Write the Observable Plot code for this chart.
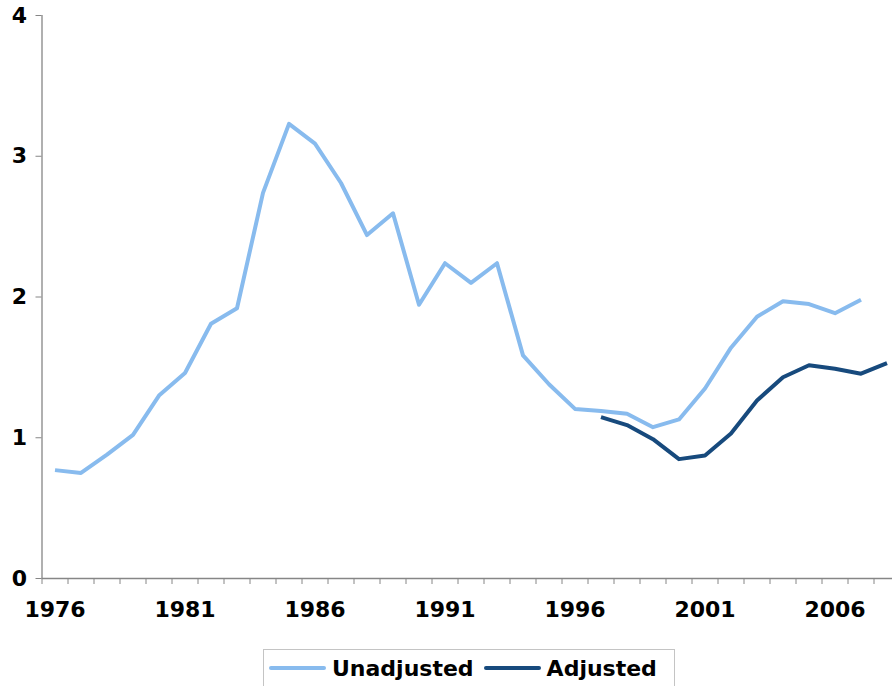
<!DOCTYPE html>
<html>
<head>
<meta charset="utf-8">
<script src="https://cdn.jsdelivr.net/npm/d3@7"></script>
<script src="https://cdn.jsdelivr.net/npm/@observablehq/plot@0.6"></script>
<style>
  html, body { margin: 0; padding: 0; background: #fff; }
  #wrap { position: relative; width: 892px; height: 686px; overflow: hidden; font-family: "DejaVu Sans", Verdana, sans-serif; }
  #legend { position: absolute; left: 263px; top: 649px; width: 412px; height: 40px; border: 1px solid #c4c4c4; box-sizing: border-box; display: flex; align-items: center; padding-left: 5px; font-weight: bold; font-size: 22px; color: #000; padding-bottom: 2px; }
  .sw { display: inline-block; width: 57px; height: 4px; border-radius: 2px; margin-right: 6px; }
  .item { display: flex; align-items: center; margin-right: 10px; }
</style>
</head>
<body>
<div id="wrap">
  <div id="chart"></div>
  <div id="legend"></div>
</div>
<script>
const years = [1976,1977,1978,1979,1980,1981,1982,1983,1984,1985,1986,1987,1988,1989,1990,1991,1992,1993,1994,1995,1996,1997,1998,1999,2000,2001,2002,2003,2004,2005,2006,2007,2008];
const unadjusted = [0.77,0.75,0.88,1.02,1.30,1.46,1.81,1.92,2.74,3.23,3.09,2.81,2.44,2.595,1.945,2.24,2.10,2.24,1.585,1.38,1.205,1.19,1.17,1.075,1.13,1.35,1.64,1.86,1.97,1.95,1.885,1.98,null];
const adjusted = [null,null,null,null,null,null,null,null,null,null,null,null,null,null,null,null,null,null,null,null,null,1.146,1.09,0.99,0.848,0.874,1.03,1.265,1.43,1.515,1.49,1.455,1.53];
const yTicks = [0,1,2,3,4];
const xLabels = [1976,1981,1986,1991,1996,2001,2006];
const seriesNames = ["Unadjusted","Adjusted"];
const seriesColors = ["#88bbee","#174a7d"];

const rows = [];
years.forEach((yr, i) => {
  if (unadjusted[i] != null) rows.push({year: yr, value: unadjusted[i], series: "Unadjusted"});
});
years.forEach((yr, i) => {
  if (adjusted[i] != null) rows.push({year: yr, value: adjusted[i], series: "Adjusted"});
});

const lo = years[0] - 0.5, hi = years[years.length - 1] + 0.5;
const bounds = d3.range(lo, hi + 0.01, 1);
const axisColor = "#868686";
const font = {fontSize: 22, fontWeight: "bold", fontFamily: "DejaVu Sans, Verdana, sans-serif"};

const chart = Plot.plot({
  width: 892,
  height: 640,
  marginTop: 15,
  marginBottom: 62,
  marginLeft: 41.5,
  marginRight: 0,
  style: {background: "white", color: "black", overflow: "hidden"},
  x: {domain: [lo, hi], range: [41.5, 899.5]},
  y: {domain: [0, 4]},
  color: {domain: seriesNames, range: seriesColors},
  marks: [
    Plot.axisY({ticks: yTicks, tickSize: 6, tickPadding: 9, tickFormat: d => String(d), stroke: axisColor, fill: "black", label: null, ...font}),
    Plot.axisX({ticks: bounds, tickSize: 6, tickFormat: () => "", stroke: axisColor, label: null}),
    Plot.axisX({ticks: xLabels, tickSize: 0, tickPadding: 23, tickFormat: d => String(d), fill: "black", label: null, ...font}),
    Plot.ruleX([lo], {y1: 0, y2: 4, stroke: axisColor, strokeWidth: 1.3}),
    Plot.ruleY([0], {x1: lo, x2: hi, stroke: axisColor, strokeWidth: 1.3}),
    Plot.line(rows, {x: "year", y: "value", z: "series", stroke: "series", strokeWidth: 4, strokeLinejoin: "round", strokeLinecap: "butt"})
  ]
});
document.getElementById("chart").appendChild(chart);

const legend = document.getElementById("legend");
seriesNames.forEach((name, i) => {
  const item = document.createElement("span");
  item.className = "item";
  const sw = document.createElement("span");
  sw.className = "sw";
  sw.style.background = seriesColors[i];
  item.appendChild(sw);
  item.appendChild(document.createTextNode(name));
  legend.appendChild(item);
});
</script>
</body>
</html>
